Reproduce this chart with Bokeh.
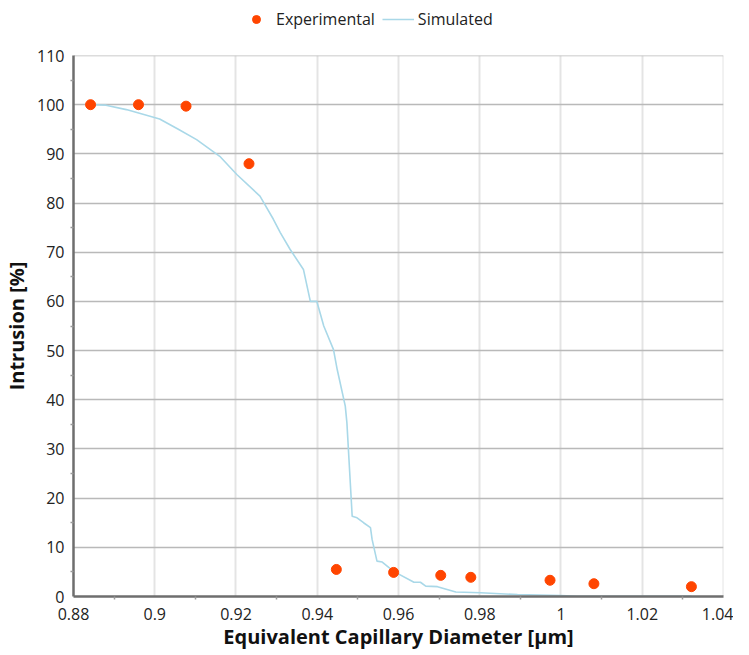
from bokeh.plotting import figure
from bokeh.layouts import column
from bokeh.models import Range1d, FixedTicker, Legend, LegendItem
from bokeh.embed import file_html
from bokeh.resources import INLINE

# Experimental points
exp_x = [0.8842, 0.8960, 0.9077, 0.9232, 0.9447, 0.9588, 0.9704, 0.9778, 0.9973, 1.0081, 1.0321]
exp_y = [100.0, 100.0, 99.7, 88.0, 5.5, 4.9, 4.3, 3.9, 3.3, 2.6, 2.0]

# Simulated curve
sim_x = [0.8842, 0.8880, 0.8930, 0.9012, 0.9058, 0.9103, 0.9160, 0.9202, 0.9259, 0.9292,
         0.9309, 0.9333, 0.9366, 0.9383, 0.9399, 0.9416, 0.9440, 0.9449, 0.9469, 0.9473,
         0.9486, 0.9498, 0.9514, 0.9531, 0.9535, 0.9547, 0.9560, 0.9588, 0.9638, 0.9654,
         0.9667, 0.9696, 0.9741, 0.9802, 0.9893, 1.0000, 1.0041, 1.0321]
sim_y = [100.0, 99.9, 99.0, 97.1, 95.0, 92.9, 89.5, 85.8, 81.4, 76.7,
         74.0, 70.6, 66.5, 60.0, 60.0, 55.0, 50.2, 46.2, 38.7, 35.3,
         16.3, 16.0, 15.0, 14.0, 11.6, 7.2, 7.0, 5.1, 2.9, 2.9,
         2.1, 2.0, 0.9, 0.75, 0.4, 0.2, 0.06, 0.05]

x_ticks = [0.88, 0.90, 0.92, 0.94, 0.96, 0.98, 1.00, 1.02, 1.04]
x_tick_labels = ["0.88", "0.9", "0.92", "0.94", "0.96", "0.98", "1", "1.02", "1.04"]
x_minor = [0.89, 0.91, 0.93, 0.95, 0.97, 0.99, 1.01, 1.03]
y_ticks = [0, 10, 20, 30, 40, 50, 60, 70, 80, 90, 100, 110]
y_minor = [5, 15, 25, 35, 45, 55, 65, 75, 85, 95, 105]

series_names = ["Experimental", "Simulated"]
exp_color = "#ff4500"
sim_color = "#a9d8e8"

FONT = "Open Sans"

# ---------- legend strip (its own copies of the series lie outside its ranges) ----------
lg = figure(width=733, height=44, output_backend="svg", toolbar_location=None,
            x_range=Range1d(-2, -1), y_range=Range1d(-2, -1),
            x_axis_type=None, y_axis_type=None,
            min_border_left=0, min_border_right=0, min_border_top=0, min_border_bottom=0)
lg.outline_line_color = None
lg.grid.visible = False
lg_exp = lg.scatter(exp_x, exp_y, size=8, fill_color=exp_color, line_color=exp_color)
lg_sim = lg.line(sim_x, sim_y, line_color=sim_color, line_width=1.6)
legend = Legend(items=[LegendItem(label=series_names[0], renderers=[lg_exp]),
                       LegendItem(label=series_names[1], renderers=[lg_sim])],
                orientation="horizontal", location=(167, 14),
                label_text_font=FONT, label_text_font_size="16px", label_text_color="#222222",
                border_line_color=None, background_fill_alpha=0,
                padding=2, margin=0, spacing=7, glyph_width=32, label_standoff=4)
lg.add_layout(legend, "center")

# ---------- main chart ----------
p = figure(width=733, height=608, output_backend="svg", toolbar_location=None,
           x_range=Range1d(0.88, 1.0400001), y_range=Range1d(0, 110.0001),
           min_border_left=66, min_border_right=10, min_border_top=11, min_border_bottom=54)
p.outline_line_color = None
p.background_fill_color = "white"
p.border_fill_color = "white"

p.xaxis.ticker = FixedTicker(ticks=x_ticks, minor_ticks=x_minor)
p.yaxis.ticker = FixedTicker(ticks=y_ticks, minor_ticks=y_minor)
p.xaxis.major_label_overrides = {t: l for t, l in zip(x_ticks, x_tick_labels)}

for ax in (p.xaxis, p.yaxis):
    ax.axis_line_color = "#6e6e6e"
    ax.axis_line_width = 2.5
    ax.major_tick_out = 0
    ax.major_tick_in = 0
    ax.minor_tick_out = 3
    ax.minor_tick_in = 0
    ax.minor_tick_line_color = "#9a9a9a"
    ax.minor_tick_line_width = 1.5
    ax.major_label_text_font = FONT
    ax.major_label_text_font_size = "16px"
    ax.major_label_text_color = "#222222"
    ax.axis_label_text_font = FONT
    ax.axis_label_text_font_style = "bold"
    ax.axis_label_text_font_size = "20px"
    ax.axis_label_text_color = "#111111"

p.xaxis.axis_label = "Equivalent Capillary Diameter [μm]"
p.yaxis.axis_label = "Intrusion [%]"
p.xaxis.major_label_standoff = 8
p.xaxis.axis_label_standoff = 0
p.yaxis.major_label_standoff = 6
p.yaxis.axis_label_standoff = 4

p.xgrid.grid_line_color = "#e4e4e4"
p.xgrid.grid_line_width = 2
p.ygrid.grid_line_color = "#b9b9b9"
p.ygrid.grid_line_width = 1.5

p.line(sim_x, sim_y, line_color=sim_color, line_width=1.6)
p.scatter(exp_x, exp_y, size=10, fill_color=exp_color, line_color=exp_color)

layout = column(lg, p, spacing=0)
open("out.html", "w").write(file_html(layout, INLINE))
